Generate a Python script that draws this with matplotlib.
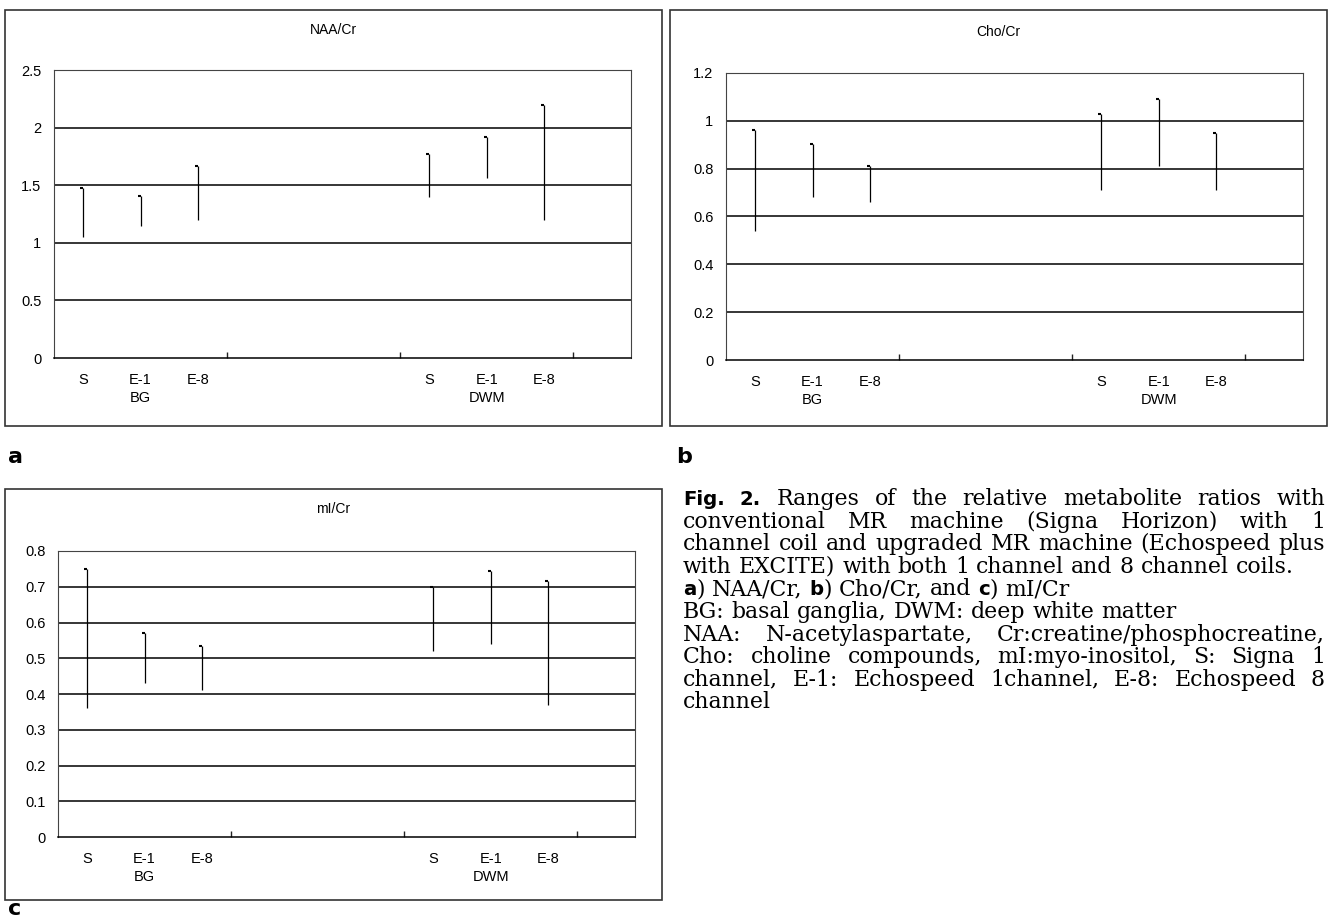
import matplotlib
matplotlib.use("Agg")
import matplotlib.pyplot as plt
from matplotlib.patches import Rectangle
from matplotlib.ticker import FormatStrFormatter, MultipleLocator

# data (range low / high per scanner, BG then DWM)
groups = ["BG", "DWM"]
scanners = ["S", "E-1", "E-8"]

naa_low = [1.05, 1.15, 1.20, 1.40, 1.56, 1.20]
naa_high = [1.48, 1.41, 1.67, 1.77, 1.92, 2.20]

cho_low = [0.54, 0.68, 0.66, 0.71, 0.81, 0.71]
cho_high = [0.96, 0.905, 0.81, 1.03, 1.09, 0.95]

mi_low = [0.36, 0.43, 0.41, 0.52, 0.54, 0.37]
mi_high = [0.75, 0.57, 0.535, 0.70, 0.745, 0.715]

W, H = 1328, 922
fig = plt.figure(figsize=(W / 100, H / 100), dpi=100)

SANS = ["Liberation Sans Narrow", "Liberation Sans"]


def fbox(x0, y0, x1, y1):
    return [x0 / W, 1 - y1 / H, (x1 - x0) / W, (y1 - y0) / H]


def panel(title, low, high, ymax, step, axbox, frame, title_y, letter, letter_xy):
    fig.add_artist(Rectangle((frame[0] / W, 1 - frame[3] / H),
                             (frame[2] - frame[0]) / W, (frame[3] - frame[1]) / H,
                             transform=fig.transFigure, fill=False, lw=1.2, ec="#333333"))
    fig.text((frame[0] + frame[2]) / 2 / W, 1 - title_y / H, title,
             ha="center", va="center", fontsize=10, family=SANS)
    fig.text(letter_xy[0] / W, 1 - letter_xy[1] / H, letter, ha="left", va="center",
             fontsize=16, weight="bold", family="DejaVu Sans")

    ax = fig.add_axes(fbox(*axbox))
    ax.set_xlim(-0.5, 9.5)
    ax.set_ylim(0, ymax)
    ax.yaxis.set_major_locator(MultipleLocator(step))
    ax.yaxis.set_major_formatter(FormatStrFormatter("%g"))
    ax.tick_params(axis="y", length=0, pad=9, labelsize=10.5)
    for lab in ax.get_yticklabels():
        lab.set_family(SANS)
    ax.set_xticks([2.5, 5.5, 8.5])
    ax.set_xticklabels([])
    ax.tick_params(axis="x", direction="in", length=4, width=1, color="#222222")
    for s in ax.spines.values():
        s.set_color("#444444")
        s.set_linewidth(0.8)
    ax.spines["bottom"].set_linewidth(1.1)
    ax.spines["bottom"].set_color("black")

    n = int(round(ymax / step))
    for i in range(1, n):
        ax.axhline(i * step, color="black", lw=1.1, zorder=1)

    pos = [0, 1, 2, 6, 7, 8]
    ax.vlines(pos, low, high, color="black", lw=0.9, zorder=3)
    ax.plot(pos, high, ls="none", marker=0, ms=2.5, mew=1.5, color="black", zorder=3)

    labels = scanners + scanners
    for p, lab in zip(pos, labels):
        ax.annotate(lab, xy=(p, 0), xycoords=("data", "axes fraction"),
                    xytext=(0, -22), textcoords="offset pixels",
                    ha="center", va="center", fontsize=10.5, family=SANS)
    for p, g in zip([1, 7], groups):
        ax.annotate(g, xy=(p, 0), xycoords=("data", "axes fraction"),
                    xytext=(0, -40), textcoords="offset pixels",
                    ha="center", va="center", fontsize=10.5, family=SANS)
    return ax


panel("NAA/Cr", naa_low, naa_high, 2.5, 0.5, (54, 70, 631, 358),
      (5, 10, 662, 426), 30, "a", (8, 457))
panel("Cho/Cr", cho_low, cho_high, 1.2, 0.2, (726, 73, 1303, 360),
      (670, 10, 1327, 426), 32, "b", (676, 457))
panel("mI/Cr", mi_low, mi_high, 0.8, 0.1, (58, 551, 635, 837),
      (5, 489, 662, 900), 509, "c", (8, 909))

# caption, justified by hand
renderer = fig.canvas.get_renderer()
SERIF = dict(family=["DejaVu Serif"])
BOLD = dict(family=["DejaVu Sans"], weight="bold")


def text_width(s, style, size):
    t = fig.text(0, 0, s, fontsize=size, **style)
    w = t.get_window_extent(renderer).width
    t.remove()
    return w


cap_left, cap_right = 683, 1325
ref_line = "channel coil and upgraded MR machine (Echospeed plus"
size = 10 * (cap_right - cap_left - 4) / text_width(ref_line, SERIF, 10)
bsize = size * 0.9
space = text_width("a a", SERIF, size) - text_width("aa", SERIF, size)

B = "B"
caption = [
    ([[("Fig.", B)], [("2.", B)], "Ranges", "of", "the", "relative", "metabolite",
      "ratios", "with"], True),
    ("conventional MR machine (Signa Horizon) with 1", True),
    ("channel coil and upgraded MR machine (Echospeed plus", True),
    ("with EXCITE) with both 1 channel and 8 channel coils.", False),
    ([[("a", B), (")", "")], "NAA/Cr,", [("b", B), (")", "")], "Cho/Cr,", "and",
      [("c", B), (")", "")], "mI/Cr"], False),
    ("BG: basal ganglia, DWM: deep white matter", False),
    ("NAA: N-acetylaspartate, Cr:creatine/phosphocreatine,", True),
    ("Cho: choline compounds, mI:myo-inositol, S: Signa 1", True),
    ("channel, E-1: Echospeed 1channel, E-8: Echospeed 8", True),
    ("channel", False),
]


def runs_of(word):
    if isinstance(word, str):
        return [(word, SERIF, size)]
    return [(t, BOLD, bsize) if k == B else (t, SERIF, size) for t, k in word]


y0, dy = 505, 22.6
for i, (line, justify) in enumerate(caption):
    words = line.split(" ") if isinstance(line, str) else line
    words = [runs_of(w) for w in words]
    widths = [sum(text_width(t, st, sz) for t, st, sz in w) for w in words]
    gap = space
    if justify and len(words) > 1:
        gap = (cap_right - cap_left - sum(widths)) / (len(words) - 1)
    x = cap_left
    y = 1 - (y0 + i * dy) / H
    for w, wd in zip(words, widths):
        xx = x
        for t, st, sz in w:
            fig.text(xx / W, y, t, fontsize=sz, ha="left", va="baseline", **st)
            xx += text_width(t, st, sz)
        x += wd + gap

fig.savefig("out.png", dpi=100)
